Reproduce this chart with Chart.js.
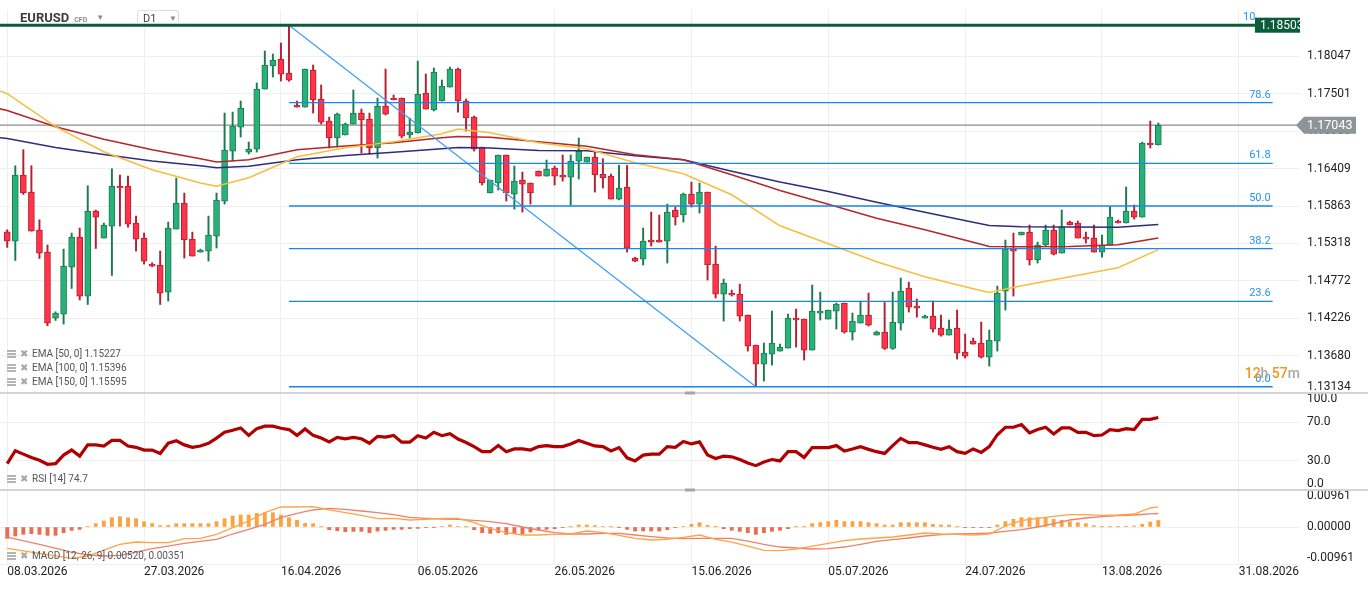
<!DOCTYPE html>
<html>
<head>
<meta charset="utf-8">
<title>EURUSD D1</title>
<script src="https://cdn.jsdelivr.net/npm/chart.js@4.4.1/dist/chart.umd.min.js"></script>
<style>
  html, body { margin: 0; padding: 0; background: #fff; }
  #wrap { position: relative; width: 1368px; height: 589px; overflow: hidden; font-family: Roboto, "Noto Sans", sans-serif; }
  #chart { position: absolute; left: 0; top: 0; }
  .abs { position: absolute; white-space: nowrap; }
  #sym { left: 20px; top: 10px; font-size: 13px; font-weight: 700; color: #3d3d3d; line-height: 16px; }
  #sym .cfd { font-size: 7px; font-weight: 700; color: #8a8a8a; margin-left: 5px; }
  #sym .car { font-size: 8px; color: #8a8a8a; margin-left: 9px; vertical-align: 2px; }
  #tf { left: 137px; top: 10px; width: 42px; height: 14px; border: 1px solid #dedede; border-bottom: none; border-radius: 3px 3px 0 0; font-size: 11px; color: #444; line-height: 16px; padding-left: 5px; box-sizing: border-box; }
  #tf .car { position: absolute; left: 31px; top: 0; font-size: 8px; color: #8a8a8a; }
  .leg { left: 7px; font-size: 10px; color: #555; line-height: 14px; display: flex; align-items: center; }
  .leg .ico { width: 9px; height: 8px; margin-right: 4px; background: repeating-linear-gradient(to bottom, #b4b4b4 0 2px, transparent 2px 3px); }
  .leg .x { color: #a8a8a8; font-size: 10px; margin-right: 4px; }
  #cd { right: 68px; top: 365px; font-size: 14px; font-weight: 500; color: #f7931e; line-height: 16px; }
  #cd span { color: #a8a8a8; }
</style>
</head>
<body>
<div id="wrap">
  <canvas id="chart" width="1368" height="589"></canvas>
  <div id="sym" class="abs">EURUSD<span class="cfd">CFD</span><span class="car">&#9660;</span></div>
  <div id="tf" class="abs">D1<span class="car">&#9660;</span></div>
  <div class="abs leg" style="top:347px"><span class="ico"></span><span class="x">&#10006;</span>EMA [50, 0] 1.15227</div>
  <div class="abs leg" style="top:361px"><span class="ico"></span><span class="x">&#10006;</span>EMA [100, 0] 1.15396</div>
  <div class="abs leg" style="top:375px"><span class="ico"></span><span class="x">&#10006;</span>EMA [150, 0] 1.15595</div>
  <div class="abs leg" style="top:472px"><span class="ico"></span><span class="x">&#10006;</span>RSI [14] 74.7</div>
  <div class="abs leg" style="top:549px"><span class="ico"></span><span class="x">&#10006;</span>MACD [12, 26, 9] 0.00520, 0.00351</div>
  <div id="cd" class="abs">12<span>h</span> 57<span>m</span></div>
</div>
<script>
// date axis: one label every 17 daily candles
const dateTicks = [0, 17, 34, 51, 68, 85, 102, 119, 136, 153];
const dateLabels = ['08.03.2026', '27.03.2026', '16.04.2026', '06.05.2026', '26.05.2026',
  '15.06.2026', '05.07.2026', '24.07.2026', '13.08.2026', '31.08.2026'];

const priceTicks = [1.13134, 1.13680, 1.14226, 1.14772, 1.15318, 1.15863, 1.16409, 1.16955, 1.17501, 1.18047];
const rsiTicks = [0, 30, 70, 100];
const macdTicks = [-0.00961, 0, 0.00961];

// daily candles
const opens = [
  1.15488, 1.15352, 1.16316, 1.16067, 1.15513, 1.15191, 1.14228, 1.14286, 1.14972, 1.15410,
  1.14549, 1.15790, 1.15396, 1.15571, 1.16155, 1.16155, 1.15615, 1.15396, 1.15016, 1.15002,
  1.14607, 1.15527, 1.15907, 1.15381, 1.15191, 1.15206, 1.15425, 1.15936, 1.16666, 1.17016,
  1.16651, 1.16695, 1.17571, 1.17907, 1.18009, 1.17805, 1.17338, 1.17308, 1.17849, 1.17425,
  1.17104, 1.16856, 1.16900, 1.17060, 1.17221, 1.17133, 1.16710, 1.17323, 1.17440, 1.17440,
  1.16900, 1.16929, 1.17513, 1.17265, 1.17396, 1.17600, 1.17863, 1.17396, 1.17162, 1.16724,
  1.16053, 1.16199, 1.16608, 1.16038, 1.16243, 1.16199, 1.16374, 1.16301, 1.16418, 1.16316,
  1.16286, 1.16520, 1.16505, 1.16578, 1.16330, 1.16301, 1.15965, 1.16140, 1.15104, 1.15089,
  1.15367, 1.15367, 1.15352, 1.15805, 1.15732, 1.16038, 1.15892, 1.16067, 1.15016, 1.14578,
  1.14593, 1.14578, 1.14272, 1.13834, 1.13556, 1.13702, 1.13746, 1.13790, 1.14228, 1.14213,
  1.13761, 1.14301, 1.14213, 1.14330, 1.14447, 1.14023, 1.14155, 1.14272, 1.13980, 1.14023,
  1.13784, 1.14155, 1.14666, 1.14403, 1.14228, 1.14257, 1.14082, 1.13980, 1.14082, 1.13731,
  1.13892, 1.13863, 1.13658, 1.13892, 1.14622, 1.15235, 1.15440, 1.15483, 1.15075, 1.15294,
  1.15513, 1.15177, 1.15629, 1.15615, 1.15410, 1.15396, 1.15191, 1.15294, 1.15644, 1.15615,
  1.15790, 1.15702, 1.16783, 1.16754];
const highs = [
  1.15517, 1.16451, 1.16685, 1.16451, 1.15663, 1.15294, 1.14320, 1.15235, 1.15469, 1.15542,
  1.16159, 1.15805, 1.15615, 1.16408, 1.16316, 1.16301, 1.15717, 1.15469, 1.15035, 1.15206,
  1.15629, 1.16272, 1.16053, 1.15483, 1.15235, 1.15717, 1.16053, 1.17221, 1.17235, 1.17396,
  1.16797, 1.17659, 1.18126, 1.18082, 1.18243, 1.18503, 1.17396, 1.17863, 1.17922, 1.17630,
  1.17162, 1.17221, 1.17075, 1.17557, 1.17279, 1.17221, 1.17440, 1.17863, 1.17484, 1.17440,
  1.17148, 1.17980, 1.17790, 1.17878, 1.17703, 1.17892, 1.17878, 1.17425, 1.17177, 1.16724,
  1.16243, 1.16608, 1.16608, 1.16447, 1.16359, 1.16199, 1.16374, 1.16535, 1.16447, 1.16608,
  1.16608, 1.16856, 1.16578, 1.16651, 1.16554, 1.16330, 1.16456, 1.16456, 1.15116, 1.15542,
  1.15775, 1.15732, 1.15892, 1.15848, 1.16053, 1.16213, 1.16199, 1.16067, 1.15279, 1.14797,
  1.14637, 1.14724, 1.14272, 1.13834, 1.13863, 1.14330, 1.13848, 1.14286, 1.14359, 1.14213,
  1.14710, 1.14607, 1.14345, 1.14447, 1.14447, 1.14301, 1.14476, 1.14593, 1.14038, 1.14456,
  1.14607, 1.14812, 1.14753, 1.14505, 1.14272, 1.14476, 1.14272, 1.14199, 1.14345, 1.13994,
  1.13936, 1.14169, 1.14053, 1.14695, 1.15367, 1.15469, 1.15483, 1.15586, 1.15337, 1.15586,
  1.15586, 1.15805, 1.15644, 1.15644, 1.15483, 1.15586, 1.15440, 1.15848, 1.15659, 1.16140,
  1.15878, 1.16797, 1.17104, 1.17075];
const lows = [
  1.15259, 1.15069, 1.16032, 1.15498, 1.15098, 1.14115, 1.14193, 1.14140, 1.14660, 1.14491,
  1.14426, 1.15244, 1.15396, 1.14850, 1.15571, 1.15556, 1.15206, 1.15016, 1.14977, 1.14426,
  1.14476, 1.15527, 1.15104, 1.15133, 1.15191, 1.15060, 1.15250, 1.15892, 1.16520, 1.16870,
  1.16622, 1.16651, 1.17571, 1.17746, 1.17688, 1.17685, 1.17308, 1.17308, 1.17221, 1.17060,
  1.16710, 1.16724, 1.16900, 1.17060, 1.16637, 1.16622, 1.16564, 1.17192, 1.17411, 1.16856,
  1.16856, 1.16929, 1.17279, 1.17250, 1.17396, 1.17600, 1.17235, 1.16958, 1.16666, 1.16170,
  1.16053, 1.16097, 1.15936, 1.15819, 1.15775, 1.15892, 1.16301, 1.16301, 1.16170, 1.16228,
  1.15878, 1.16257, 1.16505, 1.16067, 1.16126, 1.15965, 1.15951, 1.15191, 1.15050, 1.15002,
  1.15279, 1.15337, 1.15031, 1.15586, 1.15629, 1.15848, 1.15761, 1.14783, 1.14520, 1.14184,
  1.14549, 1.14184, 1.13746, 1.13229, 1.13308, 1.13542, 1.13746, 1.13790, 1.13804, 1.13615,
  1.13761, 1.14199, 1.14213, 1.14067, 1.14009, 1.13907, 1.14155, 1.14111, 1.13980, 1.13769,
  1.13769, 1.14053, 1.14315, 1.14242, 1.14228, 1.14023, 1.13965, 1.13980, 1.13629, 1.13644,
  1.13848, 1.13644, 1.13527, 1.13746, 1.14345, 1.14549, 1.15440, 1.15002, 1.15031, 1.15279,
  1.15148, 1.15177, 1.15586, 1.15396, 1.15323, 1.15191, 1.15118, 1.15294, 1.15615, 1.15615,
  1.15673, 1.15702, 1.16710, 1.16754];
const closes = [
  1.15352, 1.16316, 1.16053, 1.15498, 1.15177, 1.14155, 1.14301, 1.14987, 1.15410, 1.14549,
  1.15790, 1.15702, 1.15586, 1.16155, 1.16126, 1.15600, 1.15381, 1.15060, 1.14987, 1.14593,
  1.15542, 1.15907, 1.15367, 1.15133, 1.15221, 1.15440, 1.15951, 1.16681, 1.17031, 1.17294,
  1.16695, 1.17571, 1.17922, 1.17995, 1.17790, 1.17700, 1.17308, 1.17863, 1.17411, 1.17089,
  1.16856, 1.17206, 1.17060, 1.17221, 1.17119, 1.16710, 1.17323, 1.17206, 1.17411, 1.16885,
  1.16943, 1.17498, 1.17279, 1.17819, 1.17615, 1.17863, 1.17396, 1.17148, 1.16695, 1.16199,
  1.16243, 1.16608, 1.16053, 1.16228, 1.16184, 1.16053, 1.16301, 1.16403, 1.16301, 1.16286,
  1.16520, 1.16666, 1.16578, 1.16316, 1.16272, 1.15965, 1.16126, 1.15250, 1.15060, 1.15352,
  1.15337, 1.15337, 1.15775, 1.15702, 1.16038, 1.15892, 1.16067, 1.15002, 1.14578, 1.14739,
  1.14564, 1.14257, 1.13819, 1.13556, 1.13717, 1.13863, 1.13804, 1.14228, 1.14199, 1.13761,
  1.14330, 1.14330, 1.14345, 1.14432, 1.14023, 1.14184, 1.14272, 1.14126, 1.14023, 1.13784,
  1.14169, 1.14622, 1.14388, 1.14374, 1.14257, 1.14067, 1.13980, 1.14067, 1.13717, 1.13673,
  1.13848, 1.13658, 1.13907, 1.14593, 1.15235, 1.15206, 1.15483, 1.15075, 1.15294, 1.15513,
  1.15162, 1.15556, 1.15586, 1.15396, 1.15381, 1.15191, 1.15294, 1.15702, 1.15615, 1.15790,
  1.15702, 1.16783, 1.16754, 1.17043];

// moving averages, read at these candle indices
const emaIdx = [-1, 0, 6, 12, 18, 24, 26, 30, 36, 42, 48, 54, 56, 60, 66, 72, 78, 84, 90, 96,
  102, 108, 114, 120, 122, 126, 132, 138, 143];
const ema50 = [1.17546, 1.17503, 1.17021, 1.16656, 1.16393, 1.16199, 1.16152, 1.16276, 1.16583, 1.16714,
  1.16802, 1.16919, 1.16987, 1.16933, 1.16787, 1.16700, 1.16495, 1.16335, 1.16028, 1.15575,
  1.15313, 1.15050, 1.14831, 1.14656, 1.14602, 1.14699, 1.14831, 1.14962, 1.15227];
const ema100 = [1.17284, 1.17259, 1.17021, 1.16838, 1.16685, 1.16554, 1.16505, 1.16539, 1.16685, 1.16739,
  1.16787, 1.16860, 1.16879, 1.16868, 1.16802, 1.16736, 1.16612, 1.16539, 1.16320, 1.16091,
  1.15889, 1.15685, 1.15517, 1.15335, 1.15273, 1.15269, 1.15273, 1.15298, 1.15396];
const ema150 = [1.16860, 1.16850, 1.16719, 1.16616, 1.16520, 1.16451, 1.16422, 1.16444, 1.16539, 1.16600,
  1.16650, 1.16698, 1.16719, 1.16710, 1.16673, 1.16670, 1.16597, 1.16539, 1.16371, 1.16213,
  1.16076, 1.15918, 1.15772, 1.15626, 1.15579, 1.15561, 1.15556, 1.15553, 1.15595];

// RSI (14), one value per candle
const rsi = [
  27.2, 40.5, 37.0, 33.5, 30.7, 26.5, 27.2, 36.0, 41.2, 34.9,
  46.5, 46.5, 45.4, 51.1, 51.1, 45.4, 44.0, 41.2, 41.2, 37.7,
  48.2, 50.7, 46.5, 44.0, 45.4, 48.2, 53.5, 59.5, 61.6, 64.0,
  56.3, 63.3, 65.8, 65.8, 63.7, 62.3, 56.3, 63.0, 56.3, 53.5,
  49.6, 54.2, 52.8, 54.2, 52.8, 48.2, 55.3, 54.6, 56.3, 49.3,
  49.3, 56.0, 53.5, 59.5, 56.0, 58.1, 52.5, 48.9, 44.7, 39.5,
  39.5, 45.8, 39.5, 42.3, 42.3, 41.2, 44.7, 45.8, 44.7, 44.7,
  47.5, 51.1, 48.2, 45.4, 44.7, 40.2, 43.7, 33.2, 30.0, 36.0,
  37.0, 37.0, 44.7, 44.0, 50.0, 47.5, 49.6, 36.0, 32.5, 34.9,
  34.2, 31.4, 27.9, 25.1, 28.9, 31.4, 30.0, 39.5, 39.5, 33.5,
  43.7, 43.7, 43.7, 45.8, 40.2, 42.3, 44.7, 41.9, 39.5, 37.7,
  45.8, 53.2, 48.9, 48.9, 46.5, 44.0, 41.9, 44.7, 39.5, 37.7,
  42.3, 38.8, 44.7, 57.0, 64.7, 64.7, 67.5, 58.8, 62.3, 64.7,
  57.7, 64.0, 64.0, 59.5, 59.5, 56.0, 56.7, 62.3, 61.2, 63.3,
  62.3, 72.8, 72.8, 74.7];

// MACD (12, 26, 9): histogram per candle, lines read at macdIdx
const macdHist = [
  -0.00294, -0.00234, -0.00191, -0.00173, -0.00191, -0.00217, -0.00217, -0.00147, -0.00087, -0.00061,
  0.00017, 0.00087, 0.00156, 0.00242, 0.00268, 0.00242, 0.00217, 0.00139, 0.00087, 0.00035,
  0.00043, 0.00087, 0.00087, 0.00087, 0.00087, 0.00087, 0.00139, 0.00217, 0.00286, 0.00312,
  0.00312, 0.00355, 0.00372, 0.00372, 0.00312, 0.00242, 0.00173, 0.00095, 0.00087, 0.00004,
  -0.00069, -0.00095, -0.00121, -0.00113, -0.00113, -0.00147, -0.00104, -0.00087, -0.00061, -0.00061,
  -0.00043, -0.00035, -0.00017, -0.00004, 0.00017, 0.00052, 0.00017, 0.00004, -0.00069, -0.00147,
  -0.00165, -0.00147, -0.00191, -0.00173, -0.00173, -0.00130, -0.00078, -0.00061, -0.00043, -0.00017,
  0.00004, 0.00052, 0.00052, 0.00035, 0.00017, 0.00004, -0.00004, -0.00061, -0.00104, -0.00104,
  -0.00104, -0.00104, -0.00069, -0.00017, 0.00017, 0.00069, 0.00113, 0.00043, 0.00004, -0.00043,
  -0.00087, -0.00113, -0.00147, -0.00191, -0.00147, -0.00113, -0.00087, -0.00043, 0.00004, 0.00004,
  0.00087, 0.00113, 0.00139, 0.00173, 0.00139, 0.00139, 0.00139, 0.00113, 0.00087, 0.00052,
  0.00052, 0.00113, 0.00113, 0.00113, 0.00113, 0.00069, 0.00052, 0.00052, 0.00004, -0.00009,
  -0.00009, -0.00009, -0.00009, 0.00052, 0.00139, 0.00199, 0.00242, 0.00242, 0.00242, 0.00242,
  0.00199, 0.00173, 0.00139, 0.00113, 0.00087, 0.00035, 0.00004, 0.00004, 0.00004, 0.00017,
  0.00026, 0.00069, 0.00130, 0.00169];
const macdIdx = [0, 4, 8, 10, 12, 14, 16, 18, 20, 22, 24, 26, 28, 30, 32, 34, 36, 38, 40, 42, 44, 46, 48,
  50, 52, 54, 56, 58, 60, 62, 64, 66, 68, 70, 72, 74, 76, 78, 80, 82, 84, 86, 88, 90, 92, 94, 96,
  98, 100, 102, 104, 106, 108, 110, 112, 114, 116, 118, 120, 122, 124, 126, 128, 130, 132, 134, 136, 138, 140, 142, 143];
const macdLine = [-0.00554, -0.00684, -0.00814, -0.00753, -0.00598, -0.00450, -0.00390, -0.00407, -0.00407, -0.00303,
  -0.00294, -0.00191, -0.00017, 0.00156, 0.00372, 0.00520, 0.00520, 0.00528, 0.00442, 0.00372, 0.00303, 0.00217, 0.00225,
  0.00182, 0.00199, 0.00225, 0.00225, 0.00113, -0.00035, -0.00147, -0.00208, -0.00208, -0.00191, -0.00182, -0.00104,
  -0.00147, -0.00217, -0.00294, -0.00338, -0.00320, -0.00268, -0.00208, -0.00320, -0.00390, -0.00494, -0.00606, -0.00615,
  -0.00572, -0.00494, -0.00424, -0.00355, -0.00312, -0.00286, -0.00260, -0.00208, -0.00156, -0.00182, -0.00191, -0.00208,
  -0.00182, 0.00026, 0.00165, 0.00225, 0.00277, 0.00320, 0.00320, 0.00303, 0.00312, 0.00338, 0.00494, 0.00520];
const signalLine = [-0.00260, -0.00450, -0.00650, -0.00727, -0.00753, -0.00736, -0.00650, -0.00563, -0.00494, -0.00424,
  -0.00372, -0.00320, -0.00182, -0.00061, 0.00069, 0.00242, 0.00355, 0.00442, 0.00485, 0.00459, 0.00416, 0.00372, 0.00320,
  0.00251, 0.00225, 0.00208, 0.00199, 0.00173, 0.00139, 0.00087, 0.00000, -0.00078, -0.00147, -0.00182, -0.00182,
  -0.00165, -0.00165, -0.00208, -0.00251, -0.00286, -0.00303, -0.00294, -0.00294, -0.00294, -0.00364, -0.00450, -0.00520,
  -0.00546, -0.00572, -0.00563, -0.00520, -0.00450, -0.00372, -0.00329, -0.00286, -0.00234, -0.00199, -0.00182, -0.00173,
  -0.00156, -0.00113, -0.00069, 0.00000, 0.00087, 0.00182, 0.00234, 0.00268, 0.00294, 0.00312, 0.00340, 0.00351];

// fibonacci retracement from the swing high to the swing low
const fibHigh = 1.18503;
const fibLow = 1.13225;
const fibHighIdx = 35;
const fibLowIdx = 93;
const fibEndIdx = 157.2;
const fibRatios = [0, 23.6, 38.2, 50, 61.8, 78.6, 100];
const topLineEndIdx = 155;

const xMin = -0.9, xMax = 160.6;
const lastClose = closes[closes.length - 1];
const fibLevel = r => fibLow + (fibHigh - fibLow) * r / 100;

const GREEN = '#27b27a', GREEN_DK = '#1d7a50', RED = '#ff3349', RED_DK = '#b3202f';
const up = closes.map((c, i) => c >= opens[i]);

Chart.defaults.font.family = 'Roboto, "Noto Sans", sans-serif';
Chart.defaults.color = '#222';

const line = (data, color, width, axis, order) => ({
  type: 'line', data, borderColor: color, borderWidth: width, pointRadius: 0,
  tension: 0, yAxisID: axis, order, fill: false
});

const datasets = [
  // candles
  { type: 'bar', data: lows.map((l, i) => ({ x: i, y: [l, highs[i]] })), yAxisID: 'y',
    backgroundColor: up.map(u => u ? GREEN_DK : RED_DK), barThickness: 1.3, grouped: false, order: 9 },
  { type: 'bar', data: opens.map((o, i) => ({ x: i, y: [o, closes[i]] })), yAxisID: 'y',
    backgroundColor: up.map(u => u ? GREEN : RED), borderColor: up.map(u => u ? GREEN_DK : RED_DK),
    borderWidth: 1, borderSkipped: false, barThickness: 6, grouped: false, order: 8 },
  // current price line
  line([{ x: xMin, y: lastClose }, { x: xMax, y: lastClose }], '#8c8c8c', 1.3, 'y', 10),
  // moving averages
  line(emaIdx.map((k, i) => ({ x: k, y: ema50[i] })), '#f8bd3c', 1.5, 'y', 4),
  line(emaIdx.map((k, i) => ({ x: k, y: ema100[i] })), '#b5262b', 1.5, 'y', 4),
  line(emaIdx.map((k, i) => ({ x: k, y: ema150[i] })), '#2d2c80', 1.5, 'y', 4),
  // fibonacci levels and trend line
  ...fibRatios.map(r => line([{ x: fibHighIdx, y: fibLevel(r) }, { x: fibEndIdx, y: fibLevel(r) }], '#1587ee', 1.3, 'y', 3)),
  line([{ x: fibHighIdx, y: fibHigh }, { x: fibLowIdx, y: fibLow }], '#3aa0f5', 1.2, 'y', 3),
  line([{ x: xMin, y: fibHigh }, { x: topLineEndIdx, y: fibHigh }], '#0b5c3b', 3, 'y', 2),
  // RSI
  line(rsi.map((v, i) => ({ x: i, y: v })), '#b00000', 3.2, 'rsi', 1),
  // MACD
  { type: 'bar', data: macdHist.map((v, i) => ({ x: i, y: v })), yAxisID: 'macd',
    backgroundColor: macdHist.map(v => v >= 0 ? '#f9a440' : '#ee6b4e'), barThickness: 3.2, grouped: false, order: 6 },
  line(macdIdx.map((k, i) => ({ x: k, y: signalLine[i] })), '#f0806c', 1.3, 'macd', 2),
  line(macdIdx.map((k, i) => ({ x: k, y: macdLine[i] })), '#ffa445', 1.3, 'macd', 1)
];

const overlay = {
  id: 'overlay',
  afterDatasetsDraw(chart) {
    const { ctx, chartArea: a, scales } = chart;
    const xs = scales.x, ys = scales.y;
    ctx.save();
    ctx.beginPath();
    ctx.rect(a.left, a.top, a.width, a.height);
    ctx.clip();
    // fibonacci labels
    ctx.font = '11px Roboto';
    ctx.fillStyle = '#2196f3';
    ctx.textAlign = 'right';
    ctx.textBaseline = 'alphabetic';
    const xr = xs.getPixelForValue(fibEndIdx) - 2;
    fibRatios.forEach(r => ctx.fillText(r.toFixed(1), xr, ys.getPixelForValue(fibLevel(r)) - 5));
    // swing high tag (with its white backdrop hiding the level label behind it)
    const gy = ys.getPixelForValue(fibHigh);
    const gx = xs.getPixelForValue(topLineEndIdx);
    ctx.fillStyle = '#fff';
    ctx.fillRect(gx, a.top, a.right - gx + 10, gy - 7.5 - a.top);
    ctx.fillStyle = '#0a5c3b';
    ctx.fillRect(gx, gy - 7.5, a.right - gx + 10, 15);
    ctx.fillStyle = '#fff';
    ctx.font = '12px Roboto';
    ctx.textAlign = 'left';
    ctx.textBaseline = 'middle';
    ctx.fillText(fibHigh.toFixed(5), gx + 5, gy + 0.5);
    ctx.restore();
  },
  afterDraw(chart) {
    const { ctx, chartArea: a, scales } = chart;
    ctx.save();
    // pane separators
    [scales.rsi.top, scales.macd.top].forEach(t => {
      ctx.fillStyle = '#d4d4d4';
      ctx.fillRect(0, t - 1, chart.width, 2);
      ctx.fillStyle = '#a6a6a6';
      ctx.fillRect(685, t - 1.5, 10, 3);
    });
    // last price tag
    const py = scales.y.getPixelForValue(lastClose);
    const r = a.right;
    ctx.fillStyle = '#8d9598';
    ctx.beginPath();
    ctx.moveTo(r - 4, py);
    ctx.lineTo(r + 4, py - 8.5);
    ctx.lineTo(r + 56, py - 8.5);
    ctx.lineTo(r + 56, py + 8.5);
    ctx.lineTo(r + 4, py + 8.5);
    ctx.closePath();
    ctx.fill();
    ctx.fillStyle = '#fff';
    ctx.font = '12.5px Roboto';
    ctx.textAlign = 'left';
    ctx.textBaseline = 'middle';
    ctx.fillText(lastClose.toFixed(5), r + 7, py + 0.5);
    ctx.restore();
  }
};

const tickFont = { size: 12, lineHeight: 1.0 };
const yAxis = (extra) => Object.assign({
  type: 'linear', position: 'right', stack: 'panes', offset: false,
  grid: { color: '#efefef', drawTicks: false },
  border: { display: false },
  afterFit: s => { s.width = 68; s.paddingTop = 0; s.paddingBottom = 0; }
}, extra);

new Chart(document.getElementById('chart'), {
  type: 'bar',
  data: { datasets },
  options: {
    responsive: false,
    animation: false,
    events: [],
    layout: { padding: { top: 10 } },
    plugins: { legend: { display: false }, tooltip: { enabled: false } },
    scales: {
      x: {
        type: 'linear', min: xMin, max: xMax, offset: false,
        afterBuildTicks: s => { s.ticks = dateTicks.map(v => ({ value: v })); },
        ticks: { callback: (v, i) => dateLabels[i], align: 'start', padding: 1, maxRotation: 0,
          autoSkip: false, font: { size: 12 }, color: '#222' },
        grid: { color: '#efefef', drawTicks: false, offset: false },
        border: { display: false },
        afterFit: s => { s.height = 25; s.paddingLeft = 0; s.paddingRight = 0; }
      },
      y: yAxis({
        min: priceTicks[0], max: 1.18725, stackWeight: 383,
        afterBuildTicks: s => { s.ticks = priceTicks.map(v => ({ value: v })); },
        ticks: { autoSkip: false, padding: 7, font: tickFont, color: '#222',
          callback: v => v === priceTicks[0] ? [v.toFixed(5), ''] : v.toFixed(5) }
      }),
      rsi: yAxis({
        min: 0, max: 100, stackWeight: 97,
        afterBuildTicks: s => { s.ticks = rsiTicks.map(v => ({ value: v })); },
        ticks: { autoSkip: false, padding: 7, font: tickFont, color: '#222',
          callback: v => v === 100 ? ['', '100.0'] : v === 0 ? ['0.0', ''] : v.toFixed(1) }
      }),
      macd: yAxis({
        min: macdTicks[0], max: macdTicks[2], stackWeight: 74,
        afterBuildTicks: s => { s.ticks = macdTicks.map(v => ({ value: v })); },
        ticks: { autoSkip: false, padding: 7, font: tickFont, color: '#222',
          callback: v => v > 0 ? ['', v.toFixed(5)] : v < 0 ? [v.toFixed(5), ''] : '0.00000' }
      })
    }
  },
  plugins: [overlay]
});
</script>
</body>
</html>
